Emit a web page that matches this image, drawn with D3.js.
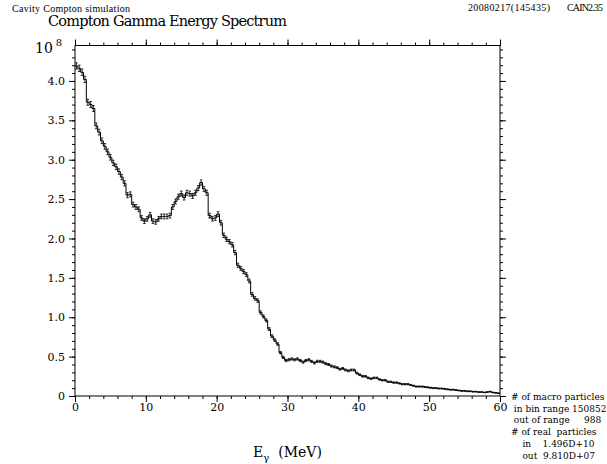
<!DOCTYPE html>
<html>
<head>
<meta charset="utf-8">
<script src="https://cdn.jsdelivr.net/npm/d3@7"></script>
<style>
  body { margin: 0; background: #fff; }
  text { font-family: "DejaVu Serif", "Liberation Serif", serif; fill: #000; }
  .small { font-family: "Liberation Serif", serif; }
</style>
</head>
<body>
<script>
// histogram: 150 bins of 0.4 MeV, values in units of 10^8
var binWidth = 0.4;
var counts = [
  4.19, 4.16, 4.11, 4.02, 3.73, 3.70, 3.65, 3.43, 3.35, 3.24,
  3.17, 3.10, 3.03, 2.96, 2.91, 2.85, 2.78, 2.70, 2.55, 2.56,
  2.43, 2.40, 2.37, 2.26, 2.22, 2.25, 2.30, 2.22, 2.21, 2.25,
  2.28, 2.28, 2.28, 2.29, 2.40, 2.47, 2.53, 2.57, 2.52, 2.58,
  2.57, 2.54, 2.58, 2.64, 2.71, 2.63, 2.58, 2.29, 2.25, 2.26,
  2.31, 2.20, 2.04, 1.99, 1.96, 1.92, 1.82, 1.66, 1.62, 1.58,
  1.54, 1.46, 1.29, 1.24, 1.21, 1.06, 1.01, 0.96, 0.85, 0.76,
  0.71, 0.66, 0.55, 0.49, 0.45, 0.46, 0.47, 0.46, 0.47, 0.45,
  0.43, 0.45, 0.46, 0.44, 0.42, 0.44, 0.44, 0.43, 0.41, 0.40,
  0.38, 0.37, 0.36, 0.34, 0.35, 0.33, 0.32, 0.33, 0.33, 0.29,
  0.27, 0.25, 0.25, 0.23, 0.22, 0.23, 0.23, 0.21, 0.20, 0.20,
  0.18, 0.18, 0.17, 0.17, 0.16, 0.15, 0.15, 0.15, 0.14, 0.13,
  0.12, 0.12, 0.12, 0.115, 0.11, 0.105, 0.10, 0.10, 0.095, 0.095,
  0.09, 0.085, 0.08, 0.08, 0.075, 0.07, 0.065, 0.065, 0.06, 0.06,
  0.055, 0.055, 0.05, 0.05, 0.045, 0.05, 0.055, 0.045, 0.04, 0.035
];

var xTickValues = [0, 10, 20, 30, 40, 50, 60];
var yTickValues = [0, 0.5, 1.0, 1.5, 2.0, 2.5, 3.0, 3.5, 4.0];
var yTickLabels = ["0", "0.5", "1.0", "1.5", "2.0", "2.5", "3.0", "3.5", "4.0"];

var infoLines = [
  "# of macro particles",
  " in bin range 150852",
  " out of range     988",
  "# of real  particles",
  "    in    1.496D+10",
  "    out  9.810D+07"
];

var width = 607, height = 464;
var plot = {left: 75, right: 500, top: 45.5, bottom: 396};

var x = d3.scaleLinear().domain([0, 60]).range([plot.left, plot.right]);
var y = d3.scaleLinear().domain([0, 4.45]).range([plot.bottom, plot.top]);

var svg = d3.select("body").append("svg")
    .attr("width", width)
    .attr("height", height);

// headers
svg.append("text").attr("class", "small").attr("x", 12).attr("y", 12)
    .style("font-size", "10px").attr("textLength", 118)
    .text("Cavity Compton simulation");
svg.append("text").attr("x", 48).attr("y", 26)
    .style("font-size", "14.5px").attr("textLength", 239)
    .text("Compton Gamma Energy Spectrum");
svg.append("text").attr("class", "small").attr("x", 468).attr("y", 11)
    .style("font-size", "10px").attr("textLength", 82)
    .text("20080217(145435)");
svg.append("text").attr("class", "small").attr("x", 567).attr("y", 11)
    .style("font-size", "10px").attr("textLength", 36)
    .text("CAIN2.35");

// 10^8 multiplier
var mult = svg.append("text").attr("x", 35).attr("y", 53).style("font-size", "14px");
mult.append("tspan").text("10");
mult.append("tspan").attr("dx", 3).attr("dy", -7).style("font-size", "10px").text("8");

// axes: major + minor ticks on every side
function styleAxis(g) {
  g.select(".domain").remove();
  g.selectAll("line").attr("stroke", "#000");
  g.selectAll("text").style("font-family", "DejaVu Serif").style("font-size", "11px");
}

svg.append("g").attr("transform", "translate(0," + plot.bottom + ")")
    .call(d3.axisBottom(x).tickValues(d3.range(0, 61, 2)).tickSize(3).tickFormat(""))
    .call(styleAxis);
svg.append("g").attr("transform", "translate(0," + plot.bottom + ")")
    .call(d3.axisBottom(x).tickValues(xTickValues).tickSize(6).tickPadding(1).tickFormat(d3.format("d")))
    .call(styleAxis);
svg.append("g").attr("transform", "translate(0," + plot.top + ")")
    .call(d3.axisTop(x).tickValues(d3.range(0, 61, 2)).tickSize(3).tickFormat(""))
    .call(styleAxis);
svg.append("g").attr("transform", "translate(0," + plot.top + ")")
    .call(d3.axisTop(x).tickValues(xTickValues).tickSize(6).tickFormat(""))
    .call(styleAxis);

var yMinor = d3.range(0, 45).map(d => d / 10);
svg.append("g").attr("transform", "translate(" + plot.left + ",0)")
    .call(d3.axisLeft(y).tickValues(yMinor).tickSize(3).tickFormat(""))
    .call(styleAxis);
svg.append("g").attr("transform", "translate(" + plot.left + ",0)")
    .call(d3.axisLeft(y).tickValues(yTickValues).tickSize(6).tickPadding(4)
      .tickFormat((d, i) => yTickLabels[i]))
    .call(styleAxis);
svg.append("g").attr("transform", "translate(" + plot.right + ",0)")
    .call(d3.axisRight(y).tickValues(yMinor).tickSize(3).tickFormat(""))
    .call(styleAxis);
svg.append("g").attr("transform", "translate(" + plot.right + ",0)")
    .call(d3.axisRight(y).tickValues(yTickValues).tickSize(6).tickFormat(""))
    .call(styleAxis);

// frame
svg.append("rect")
    .attr("x", plot.left).attr("y", plot.top)
    .attr("width", plot.right - plot.left).attr("height", plot.bottom - plot.top)
    .attr("fill", "none").attr("stroke", "#000");

// step histogram
var pts = counts.map((v, i) => [i * binWidth, v]);
pts.push([counts.length * binWidth, counts[counts.length - 1]]);
var step = d3.line().x(d => x(d[0])).y(d => y(d[1])).curve(d3.curveStepAfter);
svg.append("path")
    .attr("d", step(pts))
    .attr("fill", "none").attr("stroke", "#000").attr("stroke-width", 1);

// error bars (Poisson: relative size goes as sqrt of the count)
var bars = svg.append("g").attr("stroke", "#000").attr("stroke-width", 0.8);
counts.forEach(function(v, i) {
  var e = 0.04 * Math.sqrt(v / 4);
  var cx = x((i + 0.5) * binWidth);
  bars.append("line").attr("x1", cx).attr("x2", cx).attr("y1", y(v - e)).attr("y2", y(v + e));
  bars.append("line").attr("x1", cx - 1.3).attr("x2", cx + 1.3).attr("y1", y(v - e)).attr("y2", y(v - e));
  bars.append("line").attr("x1", cx - 1.3).attr("x2", cx + 1.3).attr("y1", y(v + e)).attr("y2", y(v + e));
});

// x axis title
var xt = svg.append("text").attr("x", (plot.left + plot.right) / 2).attr("y", 457)
    .attr("text-anchor", "middle").style("font-size", "14px");
xt.append("tspan").text("E");
xt.append("tspan").attr("dy", 4).style("font-size", "10px").text("γ");
xt.append("tspan").attr("dy", -4).text("  (MeV)").attr("xml:space", "preserve");

// run info block
svg.append("g").selectAll("text")
    .data(infoLines)
  .enter().append("text")
    .attr("x", 511)
    .attr("y", (d, i) => 400 + i * 11.7)
    .attr("xml:space", "preserve")
    .style("font-size", "9px")
    .style("white-space", "pre")
    .text(d => d);
</script>
</body>
</html>
